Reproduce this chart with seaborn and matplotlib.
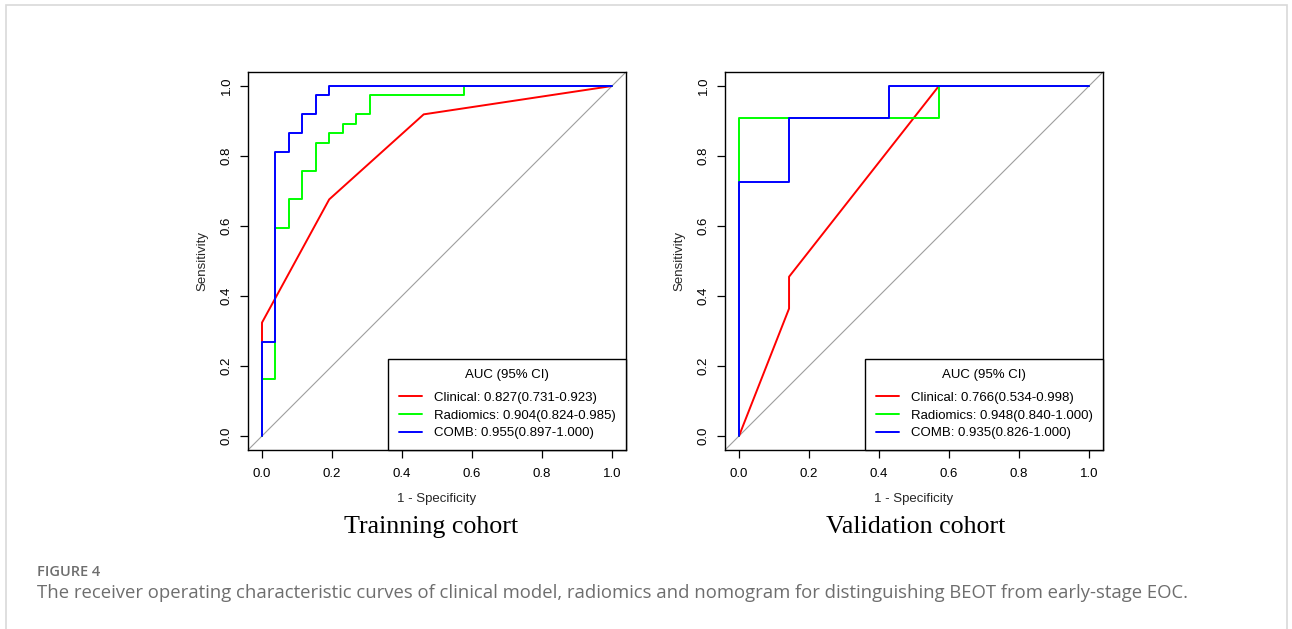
import matplotlib
matplotlib.use("Agg")
import matplotlib.pyplot as plt
import seaborn as sns
import pandas as pd
from matplotlib.patches import Rectangle

# ---------------- data (ROC vertices) ----------------
train_clin_fpr = [0, 0, 0.192, 0.462, 1]
train_clin_tpr = [0, 0.324, 0.676, 0.919, 1]

train_rad_fpr = [0, 0, 0.038, 0.038, 0.077, 0.077, 0.115, 0.115, 0.154, 0.154,
                 0.192, 0.192, 0.231, 0.231, 0.269, 0.269, 0.308, 0.308, 0.577, 0.577, 1]
train_rad_tpr = [0, 0.162, 0.162, 0.595, 0.595, 0.676, 0.676, 0.757, 0.757, 0.838,
                 0.838, 0.865, 0.865, 0.892, 0.892, 0.919, 0.919, 0.973, 0.973, 1, 1]

train_comb_fpr = [0, 0, 0.038, 0.038, 0.077, 0.077, 0.115, 0.115, 0.154, 0.154, 0.192, 0.192, 1]
train_comb_tpr = [0, 0.270, 0.270, 0.811, 0.811, 0.865, 0.865, 0.919, 0.919, 0.973, 0.973, 1, 1]

valid_clin_fpr = [0, 0.143, 0.143, 0.571, 1]
valid_clin_tpr = [0, 0.364, 0.455, 1, 1]

valid_rad_fpr = [0, 0, 0.571, 0.571, 1]
valid_rad_tpr = [0, 0.909, 0.909, 1, 1]

valid_comb_fpr = [0, 0, 0.143, 0.143, 0.429, 0.429, 1]
valid_comb_tpr = [0, 0.727, 0.727, 0.909, 0.909, 1, 1]

model_names = ["Clinical", "Radiomics", "COMB"]
train_auc_labels = ["Clinical: 0.827(0.731-0.923)",
                    "Radiomics: 0.904(0.824-0.985)",
                    "COMB: 0.955(0.897-1.000)"]
valid_auc_labels = ["Clinical: 0.766(0.534-0.998)",
                    "Radiomics: 0.948(0.840-1.000)",
                    "COMB: 0.935(0.826-1.000)"]
panel_titles = ["Trainning cohort", "Validation cohort"]
tick_values = [0.0, 0.2, 0.4, 0.6, 0.8, 1.0]
tick_labels = ["0.0", "0.2", "0.4", "0.6", "0.8", "1.0"]
legend_title = "AUC (95% CI)"
x_label = "1 - Specificity"
y_label = "Sensitivity"
caption_head = "FIGURE 4"
caption_text = ("The receiver operating characteristic curves of clinical model, radiomics "
                "and nomogram for distinguishing BEOT from early-stage EOC.")

colors = ["#FF0000", "#00FF00", "#0000FF"]

# ---------------- figure ----------------
sns.set_theme(style="white")
plt.rcParams["font.family"] = ["Liberation Sans", "DejaVu Sans"]

W, H = 1292, 629
fig = plt.figure(figsize=(W / 100, H / 100), dpi=100)

# light grey outer frame
fig.patches.append(Rectangle((6 / W, -0.05), (1287 - 6) / W, 1 - 5 / H + 0.05,
                             transform=fig.transFigure, fill=False,
                             edgecolor="#d9d9d9", linewidth=1.2))

ax_w = 378 / W
ax_h = 378 / H
ax_bottom = 1 - 450 / H
axes = [fig.add_axes([248 / W, ax_bottom, ax_w, ax_h]),
        fig.add_axes([725 / W, ax_bottom, ax_w, ax_h])]
title_x = [431 / W, 916 / W]

panels = [
    ([train_clin_fpr, train_rad_fpr, train_comb_fpr],
     [train_clin_tpr, train_rad_tpr, train_comb_tpr], train_auc_labels),
    ([valid_clin_fpr, valid_rad_fpr, valid_comb_fpr],
     [valid_clin_tpr, valid_rad_tpr, valid_comb_tpr], valid_auc_labels),
]

fs = 9.5
for ax, (fprs, tprs, labels), title, tx in zip(axes, panels, panel_titles, title_x):
    # diagonal reference
    ax.plot([-0.04, 1.04], [-0.04, 1.04], color="#9e9e9e", lw=0.8, zorder=1)
    for name, f, t, lab, c in zip(model_names, fprs, tprs, labels, colors):
        df = pd.DataFrame({"fpr": f, "tpr": t})
        sns.lineplot(data=df, x="fpr", y="tpr", sort=False, estimator=None,
                     color=c, lw=1.4, ax=ax, label=lab, zorder=3)
    ax.set_xlim(-0.04, 1.04)
    ax.set_ylim(-0.04, 1.04)
    ax.set_xticks(tick_values)
    ax.set_xticklabels(tick_labels)
    ax.set_yticks(tick_values)
    ax.set_yticklabels(tick_labels, rotation=90, va="center")
    ax.tick_params(axis="both", direction="out", length=6, width=0.9,
                   colors="black", labelsize=fs, left=True, bottom=True)
    ax.tick_params(axis="x", pad=7)
    ax.tick_params(axis="y", pad=5)
    for s in ax.spines.values():
        s.set_visible(True)
        s.set_color("black")
        s.set_linewidth(1.0)
    ax.set_xlabel(x_label, fontsize=fs, labelpad=9)
    ax.set_ylabel(y_label, fontsize=fs, labelpad=9)
    leg = ax.legend(title=legend_title, loc="lower right", fontsize=fs,
                    title_fontsize=fs, frameon=True, fancybox=False,
                    borderaxespad=0, handlelength=1.8, handletextpad=0.85,
                    borderpad=0.8, labelspacing=0.42, edgecolor="black",
                    framealpha=1)
    # extra gap between legend title and entries (as in the R legend)
    leg._legend_box.sep = 7.6
    leg.get_frame().set_linewidth(1.0)
    leg.get_title().set_color("black")
    for txt in leg.get_texts():
        txt.set_color("black")
    ax.set_facecolor("white")
    # panel title below
    fig.text(tx, 1 - 527 / H, title, ha="center", va="center",
             fontsize=18.7, family=["Liberation Serif", "DejaVu Serif"], color="black")

fig.text(37 / W, 1 - 572 / H, caption_head, ha="left", va="center",
         fontsize=10.5, color="#6e6e6e", family=["Open Sans", "DejaVu Sans"],
         fontweight="semibold")
fig.text(37 / W, 1 - 593 / H, caption_text, ha="left", va="center",
         fontsize=13.3, color="#6e6e6e", family=["Open Sans", "DejaVu Sans"])

fig.savefig("out.png", dpi=100, facecolor="white")
